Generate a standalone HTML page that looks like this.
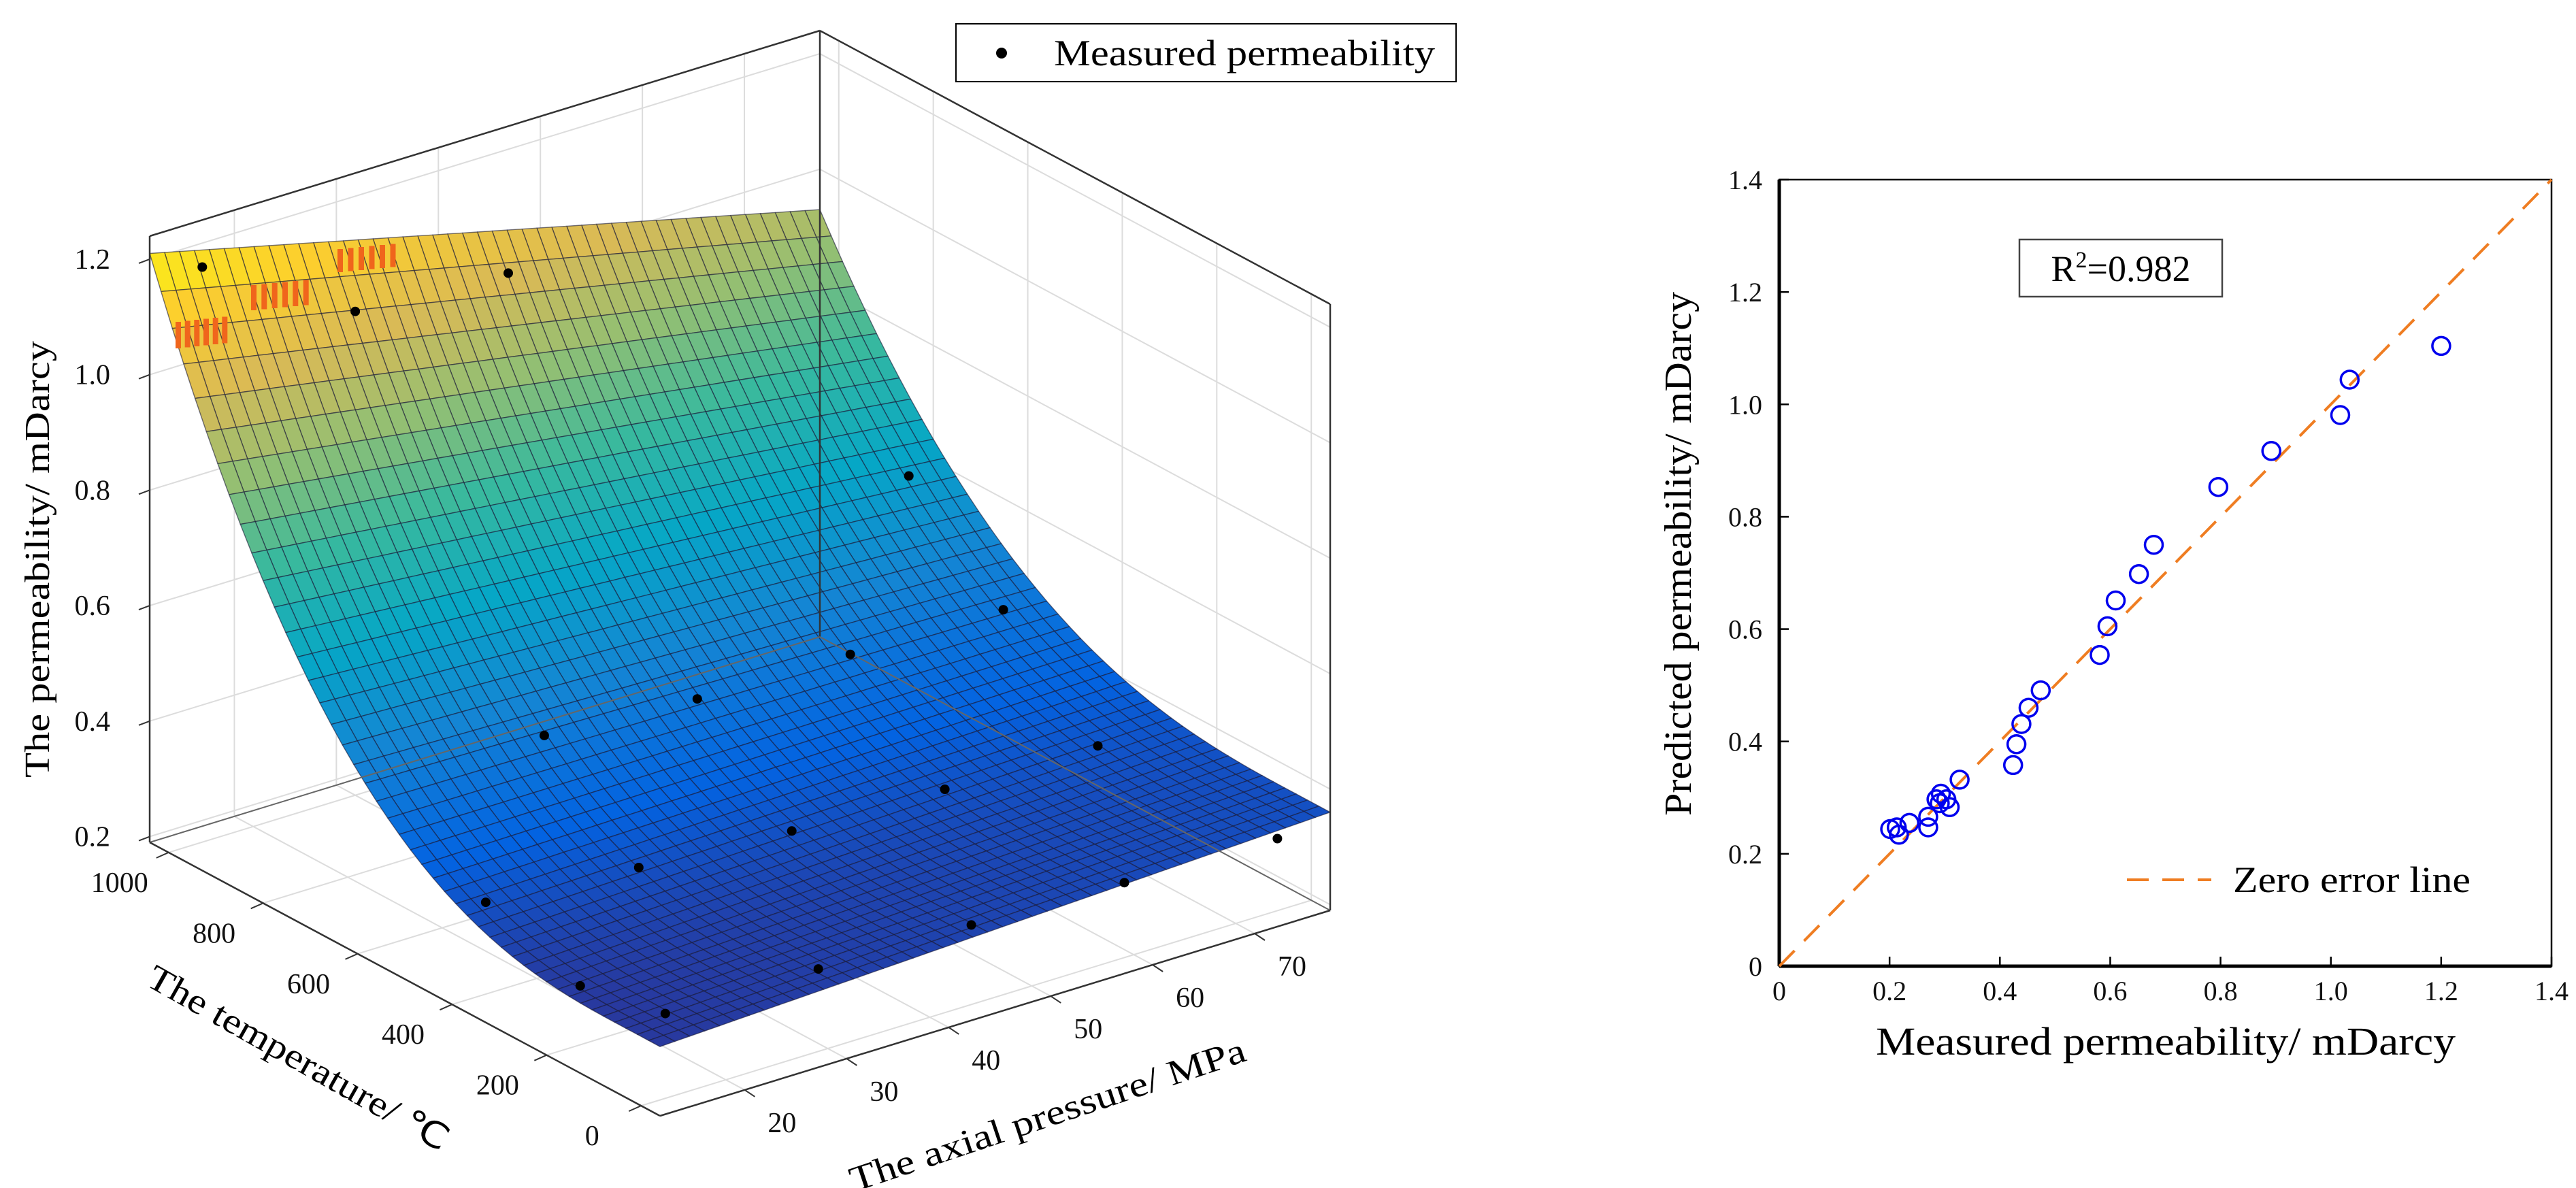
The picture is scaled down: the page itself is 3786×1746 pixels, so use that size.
<!DOCTYPE html>
<html><head><meta charset="utf-8"><title>Permeability surface and prediction</title>
<style>
html,body{margin:0;padding:0;background:#fff;}
svg{display:block;font-family:"Liberation Serif",serif;}
</style></head>
<body>
<svg id="fig" width="3786" height="1746" viewBox="0 0 3786 1746" xmlns="http://www.w3.org/2000/svg">
<rect x="0" y="0" width="3786" height="1746" fill="#fff"/>
<g id="left3d"></g>
<g id="right2d"></g>
</svg>
<script>
// ---------- 3D surface chart data ----------
const tempTicks = [0,200,400,600,800,1000];
const pressTicks = [20,30,40,50,60,70];
const permTicks = [0.2,0.4,0.6,0.8,1.0,1.2];
const tempRange = [-40,1040];
const pressRange = [11.7,77.4];
const permRange = [0.19,1.24];
// fitted surface coefficients: base = b0 + b1*w, amplitude = a0 + a1*w, shape = [offset, exponent]
const fitBase = [0.31,0.05];
const fitAmp = [0.9,-0.33];
const fitShape = [0.08,2.6];
// measured samples
const ptTemp = [1000,1000,1000,800,600,600,600,600,400,400,400,400,400,200,20,20,20,20,20];
const ptPress = [15,30,45,75,30,45,60,75,15,30,45,60,75,15,15,30,45,60,75];
const ptPerm = [1.186,1.028,1.013,0.587,0.469,0.451,0.447,0.443,0.349,0.328,0.310,0.301,0.295,0.292,0.323,0.319,0.314,0.306,0.301];

// ---------- parity chart data ----------
const measured = [0.201,0.213,0.217,0.236,0.270,0.270,0.285,0.293,0.291,0.303,0.309,0.327,0.424,0.430,0.439,0.452,0.474,0.581,0.595,0.610,0.652,0.679,0.796,0.892,1.017,1.034,1.200];
const predicted = [0.244,0.247,0.234,0.255,0.247,0.266,0.297,0.307,0.290,0.297,0.283,0.332,0.358,0.395,0.431,0.460,0.491,0.554,0.605,0.651,0.698,0.750,0.853,0.917,0.981,1.044,1.104];
const axisTicks = [0,0.2,0.4,0.6,0.8,1.0,1.2,1.4];
const axisTickLabels = ["0","0.2","0.4","0.6","0.8","1.0","1.2","1.4"];

const NS="http://www.w3.org/2000/svg";
function mk(parent,tag,attrs,text){const e=document.createElementNS(NS,tag);for(const k in attrs)e.setAttribute(k,attrs[k]);if(text!==undefined)e.textContent=text;parent.appendChild(e);return e;}

// ====== 3D projection ======
const F=[970,1640], AS=[-750,-402], AW=[985,-302], H=891;
function sOf(T){return (T-tempRange[0])/(tempRange[1]-tempRange[0]);}
function wOf(P){return (P-pressRange[0])/(pressRange[1]-pressRange[0]);}
function projSW(s,w,z){const h=(z-permRange[0])/(permRange[1]-permRange[0])*H;return [F[0]+AS[0]*s+AW[0]*w, F[1]+AS[1]*s+AW[1]*w-h];}
function proj(T,P,z){return projSW(sOf(T),wOf(P),z);}
function model(s,w){const base=fitBase[0]+fitBase[1]*w, amp=fitAmp[0]+fitAmp[1]*w;const t=Math.max(0,s-fitShape[0])/(1-fitShape[0]);return base+amp*Math.pow(t,fitShape[1]);}
const parula=[[0,[53,42,135]],[0.125,[3,99,225]],[0.25,[20,133,212]],[0.375,[6,167,198]],[0.5,[56,185,158]],[0.625,[146,191,115]],[0.75,[217,186,86]],[0.875,[252,206,46]],[1,[249,251,14]]];
function cmap(z){let t=(z-0.28)/(1.24-0.28);t=Math.max(0,Math.min(1,t));for(let i=1;i<parula.length;i++){if(t<=parula[i][0]){const a=parula[i-1],b=parula[i];const f=(t-a[0])/(b[0]-a[0]);const c=a[1].map((v,k)=>Math.round(v+(b[1][k]-v)*f));return `rgb(${c[0]},${c[1]},${c[2]})`;}}return "rgb(249,251,14)";}

const g3=document.getElementById('left3d');
const zlo=permRange[0], zhi=permRange[1];
function line(parent,p,q,stroke,wd,name){const l=mk(parent,'line',{x1:p[0],y1:p[1],x2:q[0],y2:q[1],stroke:stroke,'stroke-width':wd});return l;}

// wall & floor gridlines
const gridG=mk(g3,'g',{});


const gc="#dcdcdc";
pressTicks.forEach(P=>{const w=wOf(P);
  line(gridG,projSW(1,w,zlo),projSW(1,w,zhi),gc,2,'grid-line-pressure-wall');
  line(gridG,projSW(0,w,zlo),projSW(1,w,zlo),gc,2,'grid-line-pressure-floor');});
tempTicks.forEach(T=>{const s=sOf(T);
  line(gridG,projSW(s,1,zlo),projSW(s,1,zhi),gc,2,'grid-line-temp-wall');
  line(gridG,projSW(s,0,zlo),projSW(s,1,zlo),gc,2,'grid-line-temp-floor');});
permTicks.forEach(z=>{
  line(gridG,projSW(1,0,z),projSW(1,1,z),gc,2,'grid-line-perm-left-wall');
  line(gridG,projSW(1,1,z),projSW(0,1,z),gc,2,'grid-line-perm-right-wall');});

// box edges
const boxG=mk(g3,'g',{});


const bc="#333";
line(boxG,projSW(1,0,zlo),projSW(1,0,zhi),bc,2.5,'box-edge');
line(boxG,projSW(1,1,zlo),projSW(1,1,zhi),bc,2.5,'box-edge');
line(boxG,projSW(0,1,zlo),projSW(0,1,zhi),bc,2.5,'box-edge');
line(boxG,projSW(1,0,zhi),projSW(1,1,zhi),bc,2.5,'box-edge');
line(boxG,projSW(1,1,zhi),projSW(0,1,zhi),bc,2.5,'box-edge');
line(boxG,projSW(1,0,zlo),projSW(1,1,zlo),"#666",2,'box-edge');
line(boxG,projSW(1,1,zlo),projSW(0,1,zlo),"#666",2,'box-edge');

// surface
const surfG=mk(g3,'g',{});


const NS_=45, NW_=45, cells=[];
for(let i=0;i<NS_;i++)for(let j=0;j<NW_;j++){const s0=i/NS_,s1=(i+1)/NS_,w0=j/NW_,w1=(j+1)/NW_;cells.push([s0,s1,w0,w1]);}
cells.sort((a,b)=>(b[0]+b[2])-(a[0]+a[2]));
cells.forEach(c=>{const [s0,s1,w0,w1]=c;
  const pts=[[s0,w0],[s1,w0],[s1,w1],[s0,w1]].map(p=>projSW(p[0],p[1],model(p[0],p[1])));
  const zm=model((s0+s1)/2,(w0+w1)/2);
  const p=mk(surfG,'polygon',{points:pts.map(q=>q[0].toFixed(1)+','+q[1].toFixed(1)).join(' '),fill:cmap(zm),stroke:'rgba(25,25,55,0.6)','stroke-width':1.4,'stroke-linejoin':'round'});
  
  
});
// orange artifact patches
const artG=mk(g3,'g',{});


[[496,366,93,34],[369,419,92,37],[258,473,82,39]].forEach(r=>{for(let k=0;k<6;k++){const x=r[0]+k*r[2]/6;mk(artG,'rect',{x:x.toFixed(1),y:r[1]-k*1.5,width:8,height:r[3],fill:'#f0651c'});}});

// front floor edges (axis lines)
line(boxG,projSW(1,0,zlo),projSW(0,0,zlo),bc,2.5,'temperature-axis-line');
line(boxG,projSW(0,0,zlo),projSW(0,1,zlo),bc,2.5,'pressure-axis-line');
g3.appendChild(boxG);

// measured points
const ptG=mk(g3,'g',{});


for(let i=0;i<ptTemp.length;i++){const p=proj(ptTemp[i],ptPress[i],ptPerm[i]);
  const c=mk(ptG,'circle',{cx:p[0].toFixed(1),cy:p[1].toFixed(1),r:7,fill:'#000'});
  
  }

// ticks and labels
const tkG=mk(g3,'g',{'font-size':42,fill:'#111'});


permTicks.forEach(z=>{const p=projSW(1,0,z);
  line(tkG,[p[0]-16,p[1]+6],p,bc,2,'z-tick');
  const t=mk(tkG,'text',{x:p[0]-58,y:p[1]+14,'text-anchor':'end'},z.toFixed(1));
  
  });
tempTicks.forEach(T=>{const p=proj(T,pressRange[0],zlo);
  line(tkG,p,[p[0]-18,p[1]+8],bc,2,'temperature-tick');
  const t=mk(tkG,'text',{x:p[0]-72,y:p[1]+58,'text-anchor':'middle'},String(T));
  
  });
pressTicks.forEach(P=>{const p=proj(tempRange[0],P,zlo);
  line(tkG,p,[p[0]+15,p[1]+10],bc,2,'pressure-tick');
  const t=mk(tkG,'text',{x:p[0]+55,y:p[1]+62,'text-anchor':'middle'},String(P));
  
  });

// axis titles
let t;
t=mk(g3,'text',{x:0,y:0,'font-size':52,'text-anchor':'middle',transform:'translate(72,822) rotate(-90)',textLength:642,lengthAdjust:'spacingAndGlyphs'},'The permeability/ mDarcy');


t=mk(g3,'text',{x:0,y:0,'font-size':52,'text-anchor':'middle',transform:'translate(430,1570) rotate(29.5)',textLength:500,lengthAdjust:'spacingAndGlyphs'},'The temperature/ \u2103');


t=mk(g3,'text',{x:0,y:0,'font-size':52,'text-anchor':'middle',transform:'translate(1545,1655) rotate(-18.5)',textLength:610,lengthAdjust:'spacingAndGlyphs'},'The axial pressure/ MPa');



// legend
const lg=mk(g3,'g',{});


mk(lg,'rect',{x:1405,y:35,width:735,height:85,fill:'#fff',stroke:'#000','stroke-width':2});
mk(lg,'circle',{cx:1472,cy:78,r:8,fill:'#000'});
t=mk(lg,'text',{x:1549,y:96,'font-size':54,textLength:560,lengthAdjust:'spacingAndGlyphs'},'Measured permeability');



// ====== parity chart ======
const g2=document.getElementById('right2d');
const X0=2615,X1=3750,Y0=1420,Y1=264;
const xs=v=>X0+(v-0)/1.4*(X1-X0);
const ys=v=>Y0-(v-0)/1.4*(Y0-Y1);
let r=mk(g2,'rect',{x:X0,y:Y1,width:X1-X0,height:Y0-Y1,fill:'none',stroke:'#000','stroke-width':2.5});


line(g2,[X0,Y1],[X0,Y0],'#000',5,'y-axis-line');
line(g2,[X0,Y0],[X1,Y0],'#000',5,'x-axis-line');
const tg=mk(g2,'g',{'font-size':40,fill:'#111'});


axisTicks.forEach((v,i)=>{
  line(tg,[X0,ys(v)],[X0+14,ys(v)],'#000',2.5,'y-tick');
  line(tg,[xs(v),Y0],[xs(v),Y0-14],'#000',2.5,'x-tick');
  let a=mk(tg,'text',{x:2590,y:ys(v)+14,'text-anchor':'end'},axisTickLabels[i]);
  
  
  a=mk(tg,'text',{x:xs(v),y:1470,'text-anchor':'middle'},axisTickLabels[i]);
  
  
});
let zl=mk(g2,'line',{x1:xs(0),y1:ys(0),x2:xs(1.4),y2:ys(1.4),stroke:'#ef7d22','stroke-width':4,'stroke-dasharray':'32 20'});


const cg=mk(g2,'g',{});


for(let i=0;i<measured.length;i++){
  const c=mk(cg,'circle',{cx:xs(measured[i]).toFixed(1),cy:ys(predicted[i]).toFixed(1),r:13,fill:'none',stroke:'#0000ee','stroke-width':3.5});
  
  
}
// R2 box
const rb=mk(g2,'g',{});


mk(rb,'rect',{x:2968,y:352,width:298,height:84,fill:'#fff',stroke:'#444','stroke-width':2.5});
const rt=mk(rb,'text',{x:3117,y:413,'font-size':54,'text-anchor':'middle'});
rt.innerHTML='R<tspan dy="-20" font-size="34">2</tspan><tspan dy="20">=0.982</tspan>';
// legend
const lg2=mk(g2,'g',{});


mk(lg2,'line',{x1:3126,y1:1293,x2:3250,y2:1293,stroke:'#ef7d22','stroke-width':4,'stroke-dasharray':'32 20'});
t=mk(lg2,'text',{x:3282,y:1311,'font-size':54,textLength:349,lengthAdjust:'spacingAndGlyphs'},'Zero error line');


t=mk(g2,'text',{x:3183,y:1550,'font-size':58,'text-anchor':'middle',textLength:852,lengthAdjust:'spacingAndGlyphs'},'Measured permeability/ mDarcy');


t=mk(g2,'text',{x:0,y:0,'font-size':56,'text-anchor':'middle',transform:'translate(2485,814) rotate(-90)',textLength:770,lengthAdjust:'spacingAndGlyphs'},'Predicted permeability/ mDarcy');


</script>
</body></html>
